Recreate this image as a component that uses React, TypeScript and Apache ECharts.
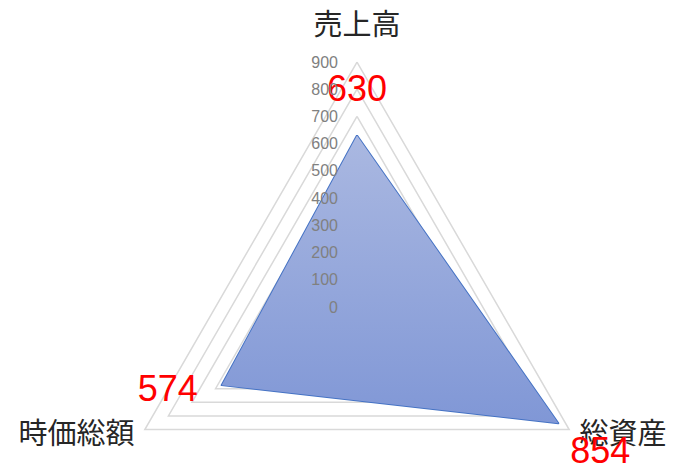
import React, { useEffect, useRef } from 'react';
import * as echarts from 'echarts';
import type { EChartsOption } from 'echarts';

// Excel order, clockwise from the top
const categories = ['売上高', '総資産', '時価総額'];
const values = [630, 854, 574];
const axisMax = 900;
const axisSplits = 9;

// ECharts walks the indicators anticlockwise, so read them in this order
const radarOrder = [0, 2, 1];

// label shift (rich padding) for each point of the Excel order, around its vertex
const labelPadding: number[][] = [
  [0, 0, 94, 0],
  [54, 0, 0, 84],
  [6, 108, 0, 0],
];
// shift of each category name
const namePadding: number[][] = [
  [0, 0, 14, 0],
  [0, 0, 10, 0],
  [0, 0, 10, 0],
];

const center = [357, 307];
const radius = 245;

function buildOption(): EChartsOption {
  const radarValues = radarOrder.map(i => values[i]);
  const baseRadar = {
    center,
    radius,
    startAngle: 90,
    splitNumber: axisSplits,
    shape: 'polygon' as const,
    axisLine: { show: false },
    axisTick: { show: false },
    splitArea: { show: false },
  };
  return {
    animation: false,
    radar: [
      {
        ...baseRadar,
        z: 0,
        nameGap: 12,
        axisName: {
          color: '#262626',
          fontSize: 29,
          fontFamily: '"Noto Sans CJK JP", sans-serif',
          formatter: (name: string) => `{n${categories.indexOf(name)}|${name}}`,
          rich: Object.fromEntries(
            namePadding.map((pad, i) => [
              `n${i}`,
              {
                color: '#262626',
                fontSize: 29,
                fontFamily: '"Noto Sans CJK JP", sans-serif',
                padding: pad,
              },
            ]),
          ),
        },
        splitLine: {
          lineStyle: { color: '#D9D9D9', width: 1.5 },
        },
        axisLabel: { show: false },
        indicator: radarOrder.map(ci => ({ name: categories[ci], min: 0, max: axisMax })),
      },
      {
        // tick labels only, drawn above the filled area
        ...baseRadar,
        z: 5,
        axisName: { show: false },
        splitLine: { show: false },
        axisLabel: {
          show: true,
          color: '#808080',
          fontSize: 16,
          margin: 19,
          fontFamily: '"Liberation Sans", sans-serif',
        },
        indicator: radarOrder.map((ci, i) =>
          i === 0
            ? { name: categories[ci], min: 0, max: axisMax }
            : { name: categories[ci], min: 0, max: axisMax, axisLabel: { show: false } },
        ) as any,
      },
    ] as any,
    series: [
      {
        type: 'radar',
        radarIndex: 0,
        z: 2,
        symbol: 'circle',
        symbolSize: 1,
        itemStyle: { color: '#4472C4' },
        lineStyle: { color: '#4472C4', width: 2 },
        areaStyle: {
          opacity: 1,
          color: new echarts.graphic.LinearGradient(0, 0, 0, 1, [
            { offset: 0, color: '#AAB8E1' },
            { offset: 1, color: '#8097D6' },
          ]),
        },
        label: {
          show: true,
          position: 'inside',
          formatter: (p: any) => {
            const i = values.indexOf(p.value);
            return `{v${i}|${p.value}}`;
          },
          rich: Object.fromEntries(
            labelPadding.map((pad, i) => [
              `v${i}`,
              {
                color: '#FF0000',
                fontSize: 36,
                fontFamily: '"Liberation Sans", sans-serif',
                padding: pad,
              },
            ]),
          ),
        },
        data: [{ value: radarValues, name: 'data' }],
      },
    ],
  };
}

export default function App() {
  const containerRef = useRef<HTMLDivElement | null>(null);

  useEffect(() => {
    if (!containerRef.current) {
      return undefined;
    }
    const chart = echarts.init(containerRef.current, undefined, { renderer: 'svg' });
    chart.setOption(buildOption());
    return () => {
      chart.dispose();
    };
  }, []);

  return (
    <div
      ref={containerRef}
      style={{ position: 'fixed', left: 0, top: 0, width: 681, height: 471, background: '#fff' }}
    />
  );
}
